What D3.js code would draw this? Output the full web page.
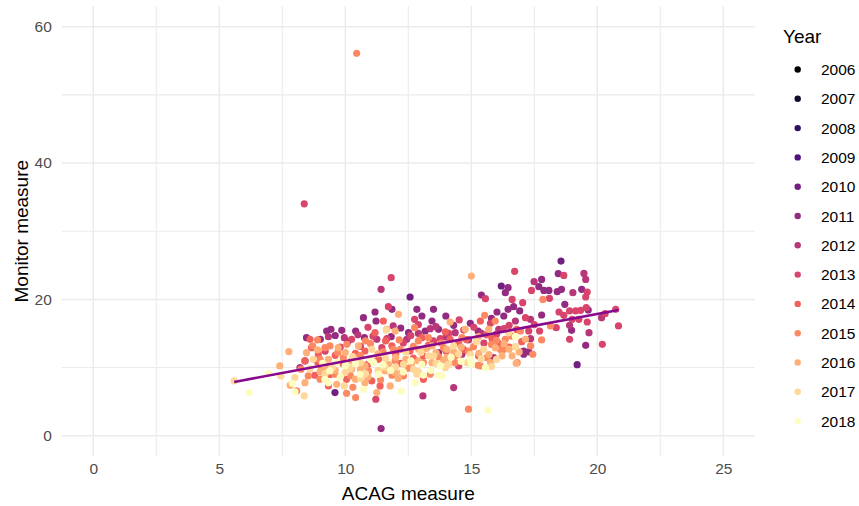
<!DOCTYPE html>
<html>
<head>
<meta charset="utf-8">
<script src="https://cdn.jsdelivr.net/npm/d3@7"></script>
<style>
  body { margin: 0; background: #fff; }
  svg text { font-family: "Liberation Sans", Arial, sans-serif; }
</style>
</head>
<body>
<div id="chart"></div>
<script>
const years = [2006, 2007, 2008, 2009, 2010, 2011, 2012, 2013, 2014, 2015, 2016, 2017, 2018];
const xTicks = [0, 5, 10, 15, 20, 25];
const xMinorTicks = [2.5, 7.5, 12.5, 17.5, 22.5];
const yTicks = [0, 20, 40, 60];
const yMinorTicks = [10, 30, 50];

// lm(monitor ~ acag)
const fitIntercept = 4.02;
const fitSlope = 0.692;

// [ACAG measure, Monitor measure] per year
const pts2010 = [[18.56,25.62],[19.20,10.43],[12.57,20.35],[16.19,21.96],[9.59,6.33]];
const pts2011 = [[8.46,14.39],[9.01,14.14],[9.26,15.36],[11.18,18.15],[11.85,18.54],[10.72,17.32],[11.22,16.83],
  [12.84,18.54],[13.04,17.56],[9.43,15.61],[9.86,15.46],[10.41,15.36],[12.51,15.12],[13.17,15.36],[10.76,14.39],
  [11.82,14.53],[11.42,1.05],[16.46,21.71],[16.35,20.98],[15.40,20.64],[16.46,18.54],[16.68,18.93],[16.92,18.30],
  [16.02,18.15],[13.50,18.54],[13.99,17.56],[14.96,16.49],[16.29,17.56],[13.44,16.83],[13.70,15.61],[15.27,15.36],
  [17.08,12.43],[13.70,12.19],[17.08,11.95],[18.45,23.77],[17.79,22.93],[17.68,21.86],[17.88,21.32],[18.08,21.32],
  [18.41,21.13],[18.58,21.47],[19.38,21.47],[18.71,19.27],[19.64,18.44],[17.79,17.71],[18.98,15.46],[19.54,13.26],
  [17.28,12.29],[10.1,13.8],[12.2,15.8],[14.3,16.2],[15.8,17.2],[9.6,14.7]];
const pts2012 = [[8.20,10.00],[8.40,10.97],[11.42,21.47],[9.33,14.53],[9.96,14.39],[11.25,14.14],[12.44,14.14],
  [13.08,5.84],[16.75,16.83],[13.37,15.71],[14.36,15.12],[16.09,15.61],[14.89,14.05],[14.63,11.95],[15.89,11.46],
  [14.30,7.06],[19.47,23.81],[19.54,22.93],[17.49,22.59],[19.03,20.98],[17.35,17.07],[20.17,17.32],[18.90,16.20],
  [19.67,15.12],[17.35,14.24],[10.5,14.8],[12.9,15.0],[14.0,14.5],[15.4,15.0],[11.9,16.1],[13.6,16.0]];
const pts2013 = [[8.37,34.02],[11.82,23.18],[11.71,18.93],[12.75,17.07],[10.25,14.14],[11.65,14.24],[11.45,12.92],
  [11.21,5.35],[16.72,24.11],[15.56,20.10],[16.62,20.00],[17.04,19.52],[14.52,16.98],[15.76,16.49],[17.15,17.32],
  [13.77,14.24],[14.50,10.24],[18.67,23.52],[17.39,21.32],[19.60,21.08],[19.54,20.35],[18.10,20.15],[18.48,18.15],
  [18.90,18.30],[19.14,18.30],[19.34,18.39],[19.56,18.78],[18.67,17.66],[19.00,17.07],[19.27,17.07],[19.60,16.68],
  [20.31,17.90],[20.73,18.54],[20.84,16.10],[18.37,15.85],[17.71,15.36],[17.28,15.36],[18.90,14.14],[20.20,13.41],
  [12.3,13.6],[13.5,13.9],[14.1,15.0],[15.1,15.9],[16.0,14.9],[12.9,16.3],[10.9,15.9],[9.8,13.0],[16.5,16.2],[15.5,13.6],
  [9.2,12.4],[10.6,13.1],[11.1,14.6],[12.6,14.7],[14.7,15.5],[16.3,15.7],[17.5,16.3]];
const pts2014 = [[8.60,14.14],[8.66,12.92],[8.93,11.95],[8.79,8.87],[9.33,7.30],[11.18,15.12],[11.51,16.83],
  [13.04,14.39],[10.78,12.43],[11.85,13.17],[12.57,12.43],[11.32,11.21],[10.05,8.28],[11.05,8.04],[11.38,7.31],
  [13.10,8.28],[15.36,16.83],[13.97,15.22],[14.16,14.14],[15.82,14.24],[14.69,12.68],[15.29,11.70],
  [12.0,12.0],[13.3,13.3],[14.5,13.6],[15.6,14.8],[16.8,15.6],[10.4,12.1],[9.6,11.8],[12.7,11.4],[14.0,12.4],
  [16.1,13.5],[17.0,13.8],[11.6,13.9],[8.9,10.8],[9.9,10.6],[10.9,10.5],[12.2,10.6],[13.1,11.7],[14.8,14.1],
  [16.5,13.0],[8.4,11.0],[9.4,9.0]];
const pts2015 = [[10.45,56.09],[8.90,14.05],[9.19,12.92],[8.24,9.75],[8.53,8.77],[9.06,9.99],[8.07,6.57],
  [12.75,15.85],[12.14,14.05],[9.39,13.17],[10.06,13.41],[12.18,12.68],[13.24,12.92],[9.92,11.46],[11.98,10.97],
  [9.59,9.02],[10.92,9.50],[11.85,8.87],[10.05,6.23],[10.41,5.60],[15.53,17.66],[15.95,16.83],[16.95,15.36],
  [13.30,14.39],[14.63,14.39],[16.35,14.14],[13.90,12.92],[15.09,13.07],[16.29,12.68],[14.36,11.70],[15.62,11.46],
  [15.27,10.33],[13.37,9.02],[14.89,3.89],[17.84,20.00],[18.14,16.10],[17.79,14.05],[17.35,13.17],[17.44,11.95],
  [11.91,12.68],[12.31,8.77],[13.10,10.72],[14.36,10.72],[15.36,10.24],[16.15,12.68],[16.82,10.72],[10.6,11.8],
  [9.0,11.2],[12.9,13.9],[13.8,13.6],[15.8,13.4],[16.6,14.6],[11.0,13.5],[10.3,7.1],[12.5,9.9],
  [9.7,12.2],[10.8,13.9],[11.5,12.3],[12.7,13.1],[13.7,11.6],[14.9,12.4],[16.0,14.0],[9.0,8.3],[10.2,8.8],
  [11.4,8.2],[8.7,13.2]];
const pts2016 = [[7.40,10.24],[7.76,12.33],[7.81,7.40],[8.46,12.19],[8.40,7.79],[12.11,17.81],[11.98,15.36],
  [9.72,12.92],[10.52,13.17],[12.91,12.68],[9.33,11.21],[10.25,10.97],[10.78,10.24],[11.71,10.48],[12.64,10.72],
  [10.25,9.75],[11.58,9.50],[12.24,9.26],[9.66,7.55],[10.78,7.79],[11.78,7.31],[11.25,6.33],[15.00,23.42],
  [14.16,16.68],[14.76,15.61],[15.69,15.61],[15.29,14.53],[17.15,14.14],[13.44,13.17],[15.95,12.92],[14.03,11.46],
  [16.22,11.70],[13.44,10.72],[16.78,10.63],[11.64,15.61],[11.98,9.26],[14.03,12.68],[15.76,10.72],[16.62,11.70],
  [9.2,10.2],[10.0,12.2],[11.3,12.0],[12.0,11.5],[13.6,12.2],[14.6,13.0],[15.3,12.1],[16.3,13.5],[10.9,8.6],
  [9.0,9.4],[12.9,11.0],[13.9,11.1],[16.9,12.3],[9.6,9.6],[10.6,9.7],[11.1,10.9],[12.4,11.2],[13.2,12.8],
  [14.3,12.3],[15.7,11.9],[16.5,12.7],[8.9,12.6],[10.4,8.3],[12.1,8.4]];
const pts2017 = [[5.59,8.04],[7.44,8.77],[8.37,5.84],[8.73,11.21],[8.00,8.53],[11.62,15.51],[11.05,12.68],
  [10.59,10.72],[12.31,10.48],[9.99,9.26],[12.84,9.02],[9.96,7.31],[16.48,15.12],[14.30,13.17],[15.49,12.68],
  [16.75,13.07],[13.30,11.70],[14.10,10.48],[14.83,10.72],[15.80,10.14],[13.97,9.99],[11.58,10.00],[12.71,9.75],
  [13.50,11.70],[14.96,11.95],[10.3,11.6],[11.6,11.3],[12.4,12.3],[13.0,12.2],[14.5,12.0],[9.5,10.0],[15.2,13.8],
  [16.0,11.2],[8.6,9.8],[10.8,9.1],[9.2,9.1],[10.2,9.9],[11.3,9.6],[12.0,10.1],[13.6,10.6],[15.4,11.3],
  [12.9,9.4],[10.6,8.4]];
const pts2018 = [[6.18,6.33],[6.94,9.16],[8.00,6.43],[9.19,8.28],[9.66,10.72],[11.12,10.72],[13.04,10.48],
  [9.39,9.50],[10.59,9.02],[11.32,9.02],[9.33,7.79],[12.77,7.79],[10.72,6.82],[12.22,6.57],[16.75,14.53],
  [14.96,11.21],[13.77,10.24],[15.56,9.99],[13.70,8.87],[15.66,3.74],[13.83,8.77],[10.0,10.3],[11.8,9.6],
  [12.6,11.0],[14.2,11.5],[15.0,10.5],[9.8,8.6],[11.0,11.2],[7.9,7.7],[13.4,9.6],[10.4,10.6],[11.5,10.4],
  [12.3,9.4],[14.6,10.9],[9.1,10.6],[13.1,8.9]];

const pointsByYear = {2010: pts2010, 2011: pts2011, 2012: pts2012, 2013: pts2013, 2014: pts2014,
  2015: pts2015, 2016: pts2016, 2017: pts2017, 2018: pts2018};

const points = years.flatMap(yr => (pointsByYear[yr] || []).map(p => ({x: p[0], y: p[1], year: yr})));

const width = 859, height = 506;
const svg = d3.select("#chart").append("svg")
  .attr("width", width)
  .attr("height", height);

const x = d3.scaleLinear().domain([-1.25, 26.25]).range([61.8, 754.8]);
const y = d3.scaleLinear().domain([-3, 63]).range([456.2, 6.2]);
const color = d3.scaleOrdinal(years, years.map((d, i) => d3.interpolateMagma(i / 12)));

// grid
const grid = svg.append("g").attr("stroke", "#EBEBEB");
grid.selectAll("line.xminor").data(xMinorTicks).join("line")
  .attr("x1", d => x(d)).attr("x2", d => x(d))
  .attr("y1", y.range()[0]).attr("y2", y.range()[1])
  .attr("stroke-width", 1.1);
grid.selectAll("line.yminor").data(yMinorTicks).join("line")
  .attr("y1", d => y(d)).attr("y2", d => y(d))
  .attr("x1", x.range()[0]).attr("x2", x.range()[1])
  .attr("stroke-width", 1.1);
grid.selectAll("line.xmajor").data(xTicks).join("line")
  .attr("x1", d => x(d)).attr("x2", d => x(d))
  .attr("y1", y.range()[0]).attr("y2", y.range()[1])
  .attr("stroke-width", 1.5);
grid.selectAll("line.ymajor").data(yTicks).join("line")
  .attr("y1", d => y(d)).attr("y2", d => y(d))
  .attr("x1", x.range()[0]).attr("x2", x.range()[1])
  .attr("stroke-width", 1.5);

// axes (labels only, like theme_minimal)
const xAxis = svg.append("g")
  .attr("transform", `translate(0,${y.range()[0]})`)
  .call(d3.axisBottom(x).tickValues(xTicks).tickSize(0).tickPadding(6.5));
const yAxis = svg.append("g")
  .attr("transform", `translate(${x.range()[0]},0)`)
  .call(d3.axisLeft(y).tickValues(yTicks).tickSize(0).tickPadding(10));
[xAxis, yAxis].forEach(a => {
  a.select(".domain").remove();
  a.selectAll("text")
    .attr("font-size", 15.5)
    .attr("fill", "#4D4D4D")
    .attr("font-family", "Liberation Sans, Arial, sans-serif");
});

svg.append("text")
  .attr("x", (x.range()[0] + x.range()[1]) / 2)
  .attr("y", 500)
  .attr("text-anchor", "middle")
  .attr("font-size", 19)
  .text("ACAG measure");

svg.append("text")
  .attr("transform", `translate(28,${(y.range()[0] + y.range()[1]) / 2}) rotate(-90)`)
  .attr("text-anchor", "middle")
  .attr("font-size", 19)
  .text("Monitor measure");

// points
svg.append("g")
  .selectAll("circle")
  .data(points)
  .join("circle")
  .attr("cx", d => x(d.x))
  .attr("cy", d => y(d.y))
  .attr("r", 3.6)
  .attr("fill", d => color(d.year));

// fitted line
const xExt = d3.extent(points, d => d.x);
svg.append("path")
  .datum(xExt.map(v => [v, fitIntercept + fitSlope * v]))
  .attr("d", d3.line().x(d => x(d[0])).y(d => y(d[1])))
  .attr("fill", "none")
  .attr("stroke", "#880A8C")
  .attr("stroke-width", 2.6);

// legend
const legend = svg.append("g");
legend.append("text")
  .attr("x", 783)
  .attr("y", 43)
  .attr("font-size", 19)
  .text("Year");
const item = legend.selectAll("g.item")
  .data(years)
  .join("g")
  .attr("transform", (d, i) => `translate(0,${69.5 + i * 29.3})`);
item.append("circle")
  .attr("cx", 797.7)
  .attr("r", 3.2)
  .attr("fill", d => color(d));
item.append("text")
  .attr("x", 821)
  .attr("dy", "0.36em")
  .attr("font-size", 15.5)
  .text(d => d);
</script>
</body>
</html>
